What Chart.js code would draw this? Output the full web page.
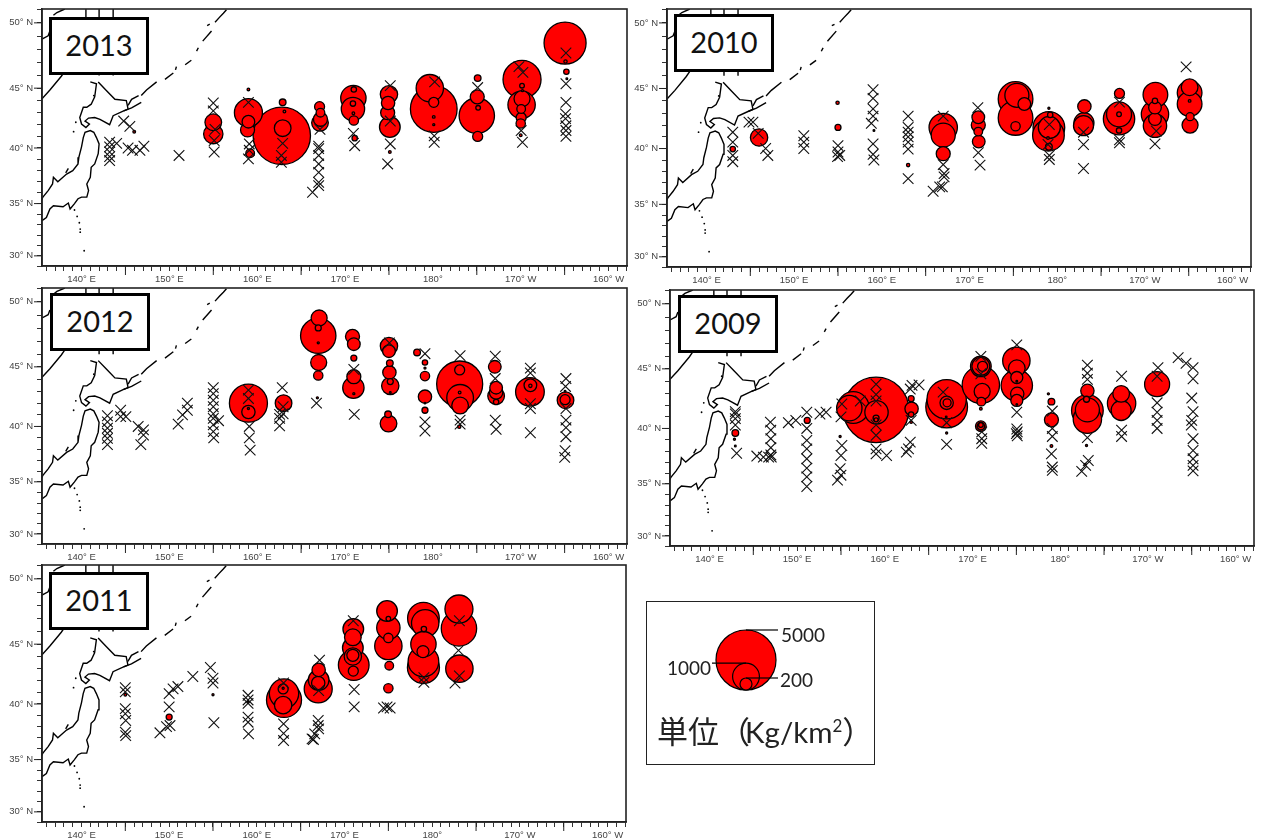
<!DOCTYPE html>
<html>
<head>
<meta charset="utf-8">
<script src="https://cdn.jsdelivr.net/npm/chart.js@4"></script>
<style>
  html, body { margin: 0; padding: 0; background: #fff; overflow: hidden; width: 1262px; height: 839px; }
  canvas { position: absolute; }
  .year { position: absolute; box-sizing: border-box; background: #fff; border: 3px solid #000; padding-bottom: 3px; font: 29px Lato, sans-serif; color: #111; display: flex; align-items: center; justify-content: center; z-index: 5; }
  #legendBox { position: absolute; left: 646px; top: 601px; width: 229px; height: 164px; box-sizing: border-box; border: 1px solid #222; }
  .ltext { position: absolute; transform: translateY(-50%); font: 19px Lato, sans-serif; color: #222; white-space: nowrap; z-index: 5; }
  #unit { font: 29.5px Lato, "Noto Sans CJK JP", sans-serif; }
  #unit b { font: 31px "Noto Sans CJK JP", sans-serif; }
  #unit span { margin-left: -5px; }
  #unit sup { font-size: 17px; line-height: 0; }
</style>
</head>
<body>
<div id="legendBox"></div>
<div class="ltext" style="left:781px;top:634px">5000</div>
<div class="ltext" style="left:667px;top:667px">1000</div>
<div class="ltext" style="left:780px;top:679px">200</div>
<div class="ltext" id="unit" style="left:657px;top:729px"><b>単位（</b><span>Kg/km<sup>2</sup></span><b>）</b></div>

<script>
// tick labels (lon past 180 runs on to the west)
const lonTickVals = [140, 150, 160, 170, 180, 190, 200];
const lonTickText = ["140° E", "150° E", "160° E", "170° E", "180°", "170° W", "160° W"];
const latTickVals = [30, 35, 40, 45, 50];

// coast, [lon, lat]
const coastHonshu = [[135.5,33.4],[136,33.7],[136.4,34.5],[136.8,34.8],[137.9,34.7],[138.5,35.05],[138.7,34.5],[139.2,35],[139.6,35.45],[140,35.6],[140.6,35.6],[140.8,36.2],[140.6,36.8],[141,37.4],[141.1,38.3],[141.5,38.6],[141.9,39.5],[142,40.35],[141.7,40.9],[141.4,41.35],[141,41.5],[140.4,41.35],[140.2,40.9],[140,40.1],[139.7,39.2],[139.6,38.6],[139,38],[138.3,37.7],[137.3,37],[136.8,37.4],[136.7,36.8],[136.2,36.2],[135.6,35.6],[135.5,35.45]];
const coastHokkaido = [[141,45.5],[141.7,45.35],[141.5,44.3],[141.1,43.7],[140.6,43.45],[140.2,43.45],[139.8,42.6],[140,42.05],[140.5,41.75],[140.9,42.05],[140.4,42.3],[140.8,42.55],[141.5,42.6],[142.1,42.45],[143.2,42],[143.6,42.75],[144.8,43.15],[145.3,43.3],[145.1,44],[143.8,44.1],[142.85,44.8],[141.9,45.5]];
const coastOther = [
  [[145.3,43.6],[145.7,44.1],[146.5,44.4]],
  [[146.8,44.4],[147.4,44.85],[148.55,45.5]],
  [[144.8,43.15],[145.7,43.4],[146.8,43.85]],
  [[149.5,45.7],[150.45,46.2]],
  [[150.7,46.45],[150.8,46.7]],
  [[151.8,46.85],[152.5,47.2]],
  [[153.1,47.9],[153.3,48.15]],
  [[153.8,48.65],[154.8,49.4]],
  [[154.3,49.8],[154.6,49.9]],
  [[155.2,50.05],[155.7,50.4],[156.15,50.7],[156.5,50.95]],
  [[135.5,44.15],[136.4,44.85],[137.7,45.95],[138.1,46.35]],
  [[135.5,48.8],[136.2,49.05],[136.4,49.4]],
  [[136.8,50.55],[137.2,50.75],[138.1,51]],
  [[140.5,51],[140.5,46.5]],
  [[142,51],[142,46]],
  [[143.6,51],[143.6,46]],
  [[138.2,37.8],[138.5,38.2]]
];
const islands = [[139.2,34.4],[139.5,33.8],[139.75,33.2],[139.85,32.6],[139.85,32.3],[140.3,30.5],[141.4,44.4],[139.35,42.2],[139.1,41.4]];

// catch stations [lon, lat, kg/km2]
const catch2013 = [[155,41.2,520],[155,42.2,386],[159,43,1090],[159,42.25,223],[158.9,41.55,272],[159.2,39.55,104],[159,44.9,10],[146,41.4,10],[162.8,41.05,4570],[162.9,41.7,386],[162.9,43.85,62],[163.1,43.1,10],[167.15,42.15,386],[167.2,42.45,272],[167.2,43,104],[167.1,43.5,139],[170.95,44.2,892],[170.9,43.3,757],[171,44.9,40],[170.9,43.75,40],[170.95,42.95,10],[171,42.35,121],[171.1,40.85,40],[175,44.5,418],[174.9,43.8,247],[174.85,43,272],[175.1,41.8,594],[175.1,39.65,10],[179.65,45,1039],[180.1,43.3,3028],[180.1,43.85,139],[180.1,42.65,10],[180.1,42,6],[185,42.75,1736],[185.05,44.3,272],[185.15,43.4,30],[185.1,45.8,62],[185.1,41,139],[190.15,45.7,2008],[190.1,43.65,1039],[190.15,44.15,356],[190.05,43.3,104],[190.05,42.6,139],[190,42.1,121],[190.15,45.2,30],[190.2,44.8,6],[190,41.1,10],[195.05,48.5,2453],[195.1,47.1,15],[195.2,46.3,40],[195.25,45.75,4]];
const catch2010 = [[143,39.95,40],[146,40.95,418],[154.95,43.85,15],[155,41.8,50],[159.1,41.55,4],[163,38.55,15],[167,41.8,1116],[167,41.15,800],[167,39.55,272],[171,42.65,223],[171,42,272],[171,41.45,104],[171.05,40.6,223],[175.25,44.15,1671],[175.25,42.6,1671],[175.4,44.45,800],[176.25,43.75,223],[175.25,41.9,121],[179.05,41.8,1394],[179,41.15,1394],[179.1,41.8,673],[179.2,42.85,40],[178.95,40.9,10],[179.05,43.4,6],[179.05,40.15,62],[183.05,42.2,556],[183,41.95,556],[183.1,43.55,247],[187.05,42.5,1365],[187.05,42.9,869],[187.05,42.9,30],[187.05,41.55,40],[187.1,44.6,139],[191.15,41.95,757],[191.15,42.9,1039],[191.2,44.5,846],[191.15,42.5,223],[191.15,43.45,223],[191.15,44,40],[195.1,44.65,846],[195.1,45.1,386],[195.1,43.75,846],[195.1,44,10],[195.15,42,356],[195.15,42.7,89]];
const catch2012 = [[159,42,2008],[159,41.25,247],[159,41.55,6],[163,42,386],[166.95,47.45,1736],[167.05,48.8,356],[166.95,48.05,50],[166.95,46.9,6],[167,45.35,356],[166.95,44.3,121],[166.85,42.45,6],[170.85,47.4,272],[171,46.8,223],[171,45.7,50],[171,44.2,272],[170.95,43.3,633],[171,42.8,6],[175,46.65,418],[175,46.25,223],[175.1,45.3,62],[175.05,44.55,247],[175.15,43.45,418],[175.15,43.8,50],[175.15,42.9,4],[174.95,40.25,386],[174.9,41.05,62],[178.2,46.15,62],[179.1,45.35,40],[179.1,44.9,6],[179.1,44.25,121],[179.1,42.55,247],[179.1,41.4,50],[179.1,42,3],[183.05,43.6,2942],[183.1,42.45,989],[183.1,41.8,386],[183.05,44.75,139],[183.05,42.9,10],[183,39.97,15],[187.05,45,223],[187.2,42.6,386],[187.2,43.3,223],[187.2,42.9,247],[187.2,42.1,40],[191.05,42.95,1143],[191.1,43.5,223],[191.1,43.45,15],[195.1,42.25,386],[195.05,42.3,139],[195.05,43,4]];
const catch2009 = [[142.95,39.6,62],[142.85,39.05,6],[142.95,38.45,4],[151.15,40.7,50],[154.9,39.3,6],[159,41.6,5936],[156.4,41.8,1394],[155.95,41.75,892],[159.05,41.4,757],[159,40.9,50],[159,40.75,22],[163,42.55,50],[163.05,41.7,247],[163,41.2,40],[163,40.55,10],[167.05,42.5,2151],[167.05,41.85,2414],[167.05,42.2,247],[167.1,42.2,89],[167,41,4],[167.05,39.6,6],[170.95,43.7,1938],[170.95,45.2,594],[170.95,45.2,448],[171.15,45.2,139],[171.1,43.15,356],[171,42.3,104],[170.95,41.7,10],[170.95,40.2,158],[170.95,40.2,75],[170.95,40.3,30],[175,45.65,1039],[175.05,45.05,386],[175.05,43.65,1365],[175.05,44.3,200],[175.1,42.95,247],[175.05,42.4,200],[175.05,44,4],[175.05,42.05,4],[178.65,42.95,6],[179,42.3,62],[179,40.75,272],[179,38.45,10],[183.1,43.2,247],[183,42.5,50],[183.1,41.55,1394],[183.1,40.8,1116],[183.1,41.6,800],[183,38.5,6],[182.85,36.8,6],[187,42.15,1116],[186.95,42.95,386],[186.95,41.55,556],[191.05,43.75,869]];
const catch2011 = [[145,40.8,10],[150,38.85,50],[155,40.8,6],[159,40.15,6],[163.1,40.35,1703],[163.1,40.9,1196],[163,41.3,139],[163,41.35,6],[163,39.9,418],[167,41.3,1090],[167.05,42.05,594],[167,41.8,247],[167.05,42.9,247],[171,46.2,594],[170.95,45.55,386],[170.95,44.7,594],[171.05,43.3,1308],[170.95,44,418],[170.95,44.1,200],[171,42.8,139],[174.85,47.6,594],[175,46.3,757],[175,44.85,1039],[175,47,30],[175,45.5,121],[175.1,43.25,104],[175,41.35,121],[179,47.05,1394],[179.2,46.65,1039],[179.05,46.2,40],[179,45,892],[178.95,44.4,200],[179,43.6,1308],[179,43.1,1424],[183.05,47.75,1090],[183.05,46.25,1736],[183.1,43,1039]];

// stations with no catch [lon, lat]
const none2013 = [[144.8,42.3],[145.5,41.85],[143.2,40.5],[143.2,40.1],[143.2,39.65],[143.2,39.25],[143.2,38.9],[144,40.4],[145.3,40],[145.8,39.8],[146.65,39.8],[147.1,40.15],[151.1,39.35],[155,43.8],[155,43.15],[155.2,41.6],[155.1,40.65],[155.1,39.65],[159,43.85],[159.1,40.35],[159.1,39.8],[159,39.05],[162.9,40.4],[162.75,39.35],[162.75,38.75],[167.15,41.6],[167,40.15],[167,39.95],[167,39.35],[167,38.6],[167,37.85],[167,36.95],[167,36.65],[166.3,36.05],[170.95,41.25],[171.1,40.2],[175.15,45.2],[175.15,42.3],[175.15,40.35],[174.85,38.6],[180.2,45.5],[180.15,41.05],[180.15,40.5],[185.1,45.05],[189.8,46.7],[190.25,46.25],[190.05,41.5],[190.2,40.5],[195.15,47.75],[195.15,45.35],[195.15,43.85],[195.1,42.9],[195.1,42.5],[195.15,41.9],[195.15,41.5],[195.15,41]];
const none2010 = [[143,41.4],[143,40.55],[143,39.4],[143,38.85],[144.85,42.25],[145.3,42.25],[145.9,41.3],[146.75,40],[147,39.4],[151.1,41.1],[151.1,40.55],[151.1,40],[155,40.25],[155,39.7],[155.2,39.4],[154.95,39.3],[159,44.9],[159,44.2],[159,43.35],[159,42.75],[158.8,42.15],[159,40.4],[159,39.5],[159.1,39],[163,42.75],[163,41.8],[163,41.4],[163,41],[163,40.55],[163,39.95],[163,37.35],[165.85,36.2],[166.6,36.6],[167,38.6],[167.1,37.8],[167.1,37.5],[166.9,36.6],[167,42.75],[170.95,43.45],[171,39.65],[171.2,38.55],[179.1,42.05],[178.95,40.35],[179.1,39.4],[179.1,39.05],[183,41.4],[183,40.35],[183,38.25],[187.1,43.9],[187.1,40.75],[187.1,40.5],[191.3,41.5],[191.15,40.4],[194.7,46.7]];
const none2012 = [[142.95,40.93],[142.95,40.4],[142.95,39.85],[142.95,39.4],[142.95,38.95],[142.95,38.4],[144.45,41.4],[144.45,40.85],[145.05,40.85],[146.45,40],[147.05,39.7],[147.05,39.25],[146.75,38.4],[151,40.2],[151.5,41],[152.05,42],[152.05,41.4],[155,43.3],[155,42.8],[155,42.25],[155,41.7],[155,41.1],[155,40.7],[155,40.15],[155,39.55],[155.05,39],[155.6,40.5],[159,43.1],[159,42.4],[159.1,40],[159.1,39],[159.2,37.9],[162.85,43.3],[162.95,41.7],[162.95,41.1],[162.55,40.7],[162.55,40.05],[162.55,41.05],[166.75,42],[171.05,41.05],[171,44.8],[175.05,46.9],[179.1,46.05],[179.1,40.4],[179.1,39.6],[183.1,45.9],[183.1,40.55],[183.1,40.2],[187.1,45.85],[187.1,40.55],[187.2,39.75],[187.1,44.05],[191.1,44.9],[191.1,44.5],[191.1,41.95],[191.1,41.55],[191.1,39.45],[195.15,44.05],[195.1,43.4],[195.15,41.55],[195.15,40.55],[195.15,39.9],[195.15,39.1],[195.05,37.85],[195,37.25]];
const none2009 = [[142.95,41.45],[142.95,41.25],[142.95,40.85],[142.95,40.3],[143.1,37.8],[145.4,37.55],[146.15,37.45],[146.75,37.45],[147.05,37.45],[147,37.65],[146.95,40.55],[147,39.85],[147,39.1],[147,38.3],[149,40.5],[149.85,40.7],[151.1,41.4],[151.1,40],[151.1,38.95],[151.1,38.2],[151.1,37.3],[151.1,36.45],[151.1,35.65],[151.1,34.75],[152.6,41.25],[153.3,41.4],[155,41],[155.1,38.5],[155,37.6],[154.9,36.4],[154.6,35.35],[155,35.8],[159,43.75],[159,42.9],[159,42.35],[157.2,42.35],[155.1,42.1],[159,40.3],[159,39.4],[159,38.2],[159,37.75],[160.2,37.6],[163.1,43.65],[163.9,43.7],[162.9,43.35],[163,40.7],[162.9,38.8],[162.7,38.2],[162.45,37.9],[166.65,43.1],[167.05,40.5],[167.05,38.6],[170.95,46],[170.95,44.6],[171.05,39.7],[171.05,39.1],[171.05,38.7],[175.05,46.9],[175.05,41.4],[175.05,39.95],[175.1,39.7],[175.1,39.35],[175,39.55],[179.1,41.5],[179.1,40],[179.1,39.3],[179,37.75],[179.1,36.55],[179.1,36.25],[183.1,45.3],[183.1,44.65],[183.1,44.15],[183.1,39.2],[183.2,37.15],[182.45,36.15],[182.9,36.7],[187,44.4],[187,39.85],[187,39.3],[191.15,45.1],[191.05,44.4],[191.05,42.2],[191.05,41.4],[191.05,40.7],[191.05,40],[193.45,45.9],[194.35,45.45],[195.15,45.1],[195.15,44.2],[195,42.6],[195.15,41.45],[195,40.7],[194.95,40.3],[195.15,39.1],[195.15,38.05],[195.15,37.3],[195.15,36.7],[195.15,36.2]];
const none2011 = [[145,41.4],[145,41.05],[145,39.6],[145,39.15],[145.05,38.55],[145,37.5],[145.05,37.2],[150,40.9],[150,39.75],[148.95,37.45],[149.7,38],[150.1,38.1],[150.45,41.3],[151,41.5],[152.7,42.35],[154.7,43.1],[155,42.2],[155,41.8],[155.1,38.35],[159,40.75],[159,40.35],[159,40.05],[159,38.85],[159,38.4],[159.05,37.35],[163.05,41.8],[163.05,38.25],[163.05,37.4],[163.05,36.75],[166.45,36.85],[167,38.55],[167,38.1],[167.05,37.8],[166.6,37.35],[166.3,36.9],[167.15,43.7],[167.05,41.15],[171,46.85],[171.1,41.25],[171.1,39.75],[174.45,39.65],[174.85,39.75],[175.2,39.65],[179.05,42.25],[179.05,41.85],[183.1,46.85],[183,44.5],[183.1,42.4],[182.6,41.8]];

// size key
const legendValues = [5000, 1000, 200];

const LON_MIN = 135.5, LON_MAX = 202.1, LAT_MIN = 29, LAT_MAX = 51;

// map is mercator, y axis works in mercator degrees
function merc(lat) {
  let rad = lat * Math.PI / 180;
  return Math.log(Math.tan(Math.PI / 4 + rad / 2)) * 180 / Math.PI;
}
function radiusOf(kg) {
  return 0.4243 * Math.sqrt(kg);
}
function toXY(p) {
  return { x: p[0], y: merc(p[1]) };
}

// frame and the longer 5 degree ticks
const framePlugin = {
  id: "frame",
  afterDraw(chart) {
    let c = chart.ctx, a = chart.chartArea, xs = chart.scales.x, ys = chart.scales.y;
    c.save();
    c.strokeStyle = "#222";
    c.lineWidth = 1.6;
    c.strokeRect(a.left, a.top, a.right - a.left, a.bottom - a.top);
    c.lineWidth = 1;
    c.beginPath();
    for (let lon = 145; lon <= 195; lon += 10) {
      let px = xs.getPixelForValue(lon);
      c.moveTo(px, a.bottom);
      c.lineTo(px, a.bottom + 9);
    }
    latTickVals.forEach(lat => {
      let py = ys.getPixelForValue(merc(lat));
      c.moveTo(a.left, py);
      c.lineTo(a.left - 8, py);
    });
    c.stroke();
    c.restore();
  }
};

function makePanel(p) {
  let canvas = document.createElement("canvas");
  canvas.width = p.r - p.l + 48;
  canvas.height = p.b - p.t + 30;
  canvas.style.left = (p.l - 42) + "px";
  canvas.style.top = (p.t - 6) + "px";
  document.body.appendChild(canvas);

  let box = document.createElement("div");
  box.className = "year";
  box.innerText = p.year;
  box.style.left = p.bx + "px";
  box.style.top = p.by + "px";
  box.style.width = "100px";
  box.style.height = "58px";
  document.body.appendChild(box);

  let circles = p.catchData.slice().sort((a, b) => b[2] - a[2]);
  let datasets = [
    {
      type: "scatter",
      data: p.noneData.map(toXY),
      pointStyle: "crossRot",
      pointRadius: 7.5,
      borderColor: "#111",
      borderWidth: 1.1,
      order: 1
    },
    {
      type: "bubble",
      data: circles.map(c => ({ x: c[0], y: merc(c[1]), r: radiusOf(c[2]) })),
      backgroundColor: "#ff0000",
      borderColor: "#000",
      borderWidth: 1.3,
      order: 2
    },
    {
      type: "scatter",
      data: islands.map(toXY),
      pointRadius: 0.9,
      backgroundColor: "#000",
      borderWidth: 0,
      order: 3
    }
  ];
  [coastHonshu, coastHokkaido].concat(coastOther).forEach(piece => {
    datasets.push({
      type: "scatter",
      showLine: true,
      data: piece.map(toXY),
      pointRadius: 0,
      borderColor: "#000",
      borderWidth: 1.4,
      order: 4
    });
  });

  new Chart(canvas, {
    type: "scatter",
    data: { datasets },
    plugins: [framePlugin],
    options: {
      responsive: false,
      animation: false,
      layout: { autoPadding: false, padding: { top: 6, right: 6, left: 0, bottom: 0 } },
      plugins: { legend: { display: false }, tooltip: { enabled: false } },
      scales: {
        x: {
          type: "linear",
          min: LON_MIN,
          max: LON_MAX,
          afterFit: s => {
            s.height = 24;
            s.paddingLeft = 0;
            s.paddingRight = 0;
          },
          afterBuildTicks: s => {
            let t = [];
            for (let lon = 136; lon <= 202; lon++) t.push({ value: lon });
            s.ticks = t;
          },
          grid: { drawOnChartArea: false, tickLength: 5, tickColor: "#333" },
          border: { color: "#222", width: 1.6 },
          ticks: {
            autoSkip: false,
            maxRotation: 0,
            padding: 3,
            color: "#444",
            font: { family: "Liberation Sans", size: 9.5 },
            callback: v => {
              let i = lonTickVals.indexOf(v);
              return i < 0 ? "" : lonTickText[i];
            }
          }
        },
        y: {
          type: "linear",
          min: merc(LAT_MIN),
          max: merc(LAT_MAX),
          afterFit: s => {
            s.width = 42;
            s.paddingTop = 0;
            s.paddingBottom = 0;
          },
          afterBuildTicks: s => {
            let t = [];
            for (let lat = 29; lat <= 51; lat++) t.push({ value: merc(lat), lat });
            s.ticks = t;
          },
          grid: { drawOnChartArea: false, tickLength: 5, tickColor: "#333" },
          border: { color: "#222", width: 1.6 },
          ticks: {
            autoSkip: false,
            padding: 4,
            color: "#444",
            font: { family: "Liberation Sans", size: 9.5 },
            callback: (v, i, all) => latTickVals.includes(all[i].lat) ? all[i].lat + "° N" : ""
          }
        }
      }
    }
  });
}

const panels = [
  { year: "2013", catchData: catch2013, noneData: none2013, l: 42, r: 627, t: 9, b: 266, bx: 49, by: 17 },
  { year: "2010", catchData: catch2010, noneData: none2010, l: 667, r: 1251, t: 9, b: 267, bx: 674, by: 14 },
  { year: "2012", catchData: catch2012, noneData: none2012, l: 42, r: 627, t: 288, b: 544, bx: 50, by: 293 },
  { year: "2009", catchData: catch2009, noneData: none2009, l: 670, r: 1254, t: 290, b: 546, bx: 678, by: 295 },
  { year: "2011", catchData: catch2011, noneData: none2011, l: 42, r: 626, t: 565, b: 822, bx: 49, by: 572 }
];
panels.forEach(makePanel);

// size key, y counted up from the key's lower edge
const KEY_X = 99, KEY_FLOOR = 75;
const keyLeaders = [[99, 131], [65, 99], [99, 131]];
let keyCanvas = document.createElement("canvas");
keyCanvas.width = 228;
keyCanvas.height = 163;
keyCanvas.style.left = "647px";
keyCanvas.style.top = "602px";
document.body.appendChild(keyCanvas);

let keyData = legendValues.map(v => ({ x: KEY_X, y: KEY_FLOOR + radiusOf(v), r: radiusOf(v) }));
let keyLines = legendValues.map((v, i) => ({
  type: "scatter",
  showLine: true,
  data: keyLeaders[i].map(x => ({ x, y: KEY_FLOOR + 2 * radiusOf(v) })),
  pointRadius: 0,
  borderColor: "#000",
  borderWidth: 1.2,
  order: 1
}));
new Chart(keyCanvas, {
  type: "scatter",
  data: {
    datasets: [{
      type: "bubble",
      data: keyData,
      backgroundColor: "#ff0000",
      borderColor: "#000",
      borderWidth: 1.2,
      order: 2
    }].concat(keyLines)
  },
  options: {
    responsive: false,
    animation: false,
    layout: { autoPadding: false },
    plugins: { legend: { display: false }, tooltip: { enabled: false } },
    scales: {
      x: { type: "linear", display: false, min: 0, max: 228 },
      y: { type: "linear", display: false, min: 0, max: 163 }
    }
  }
});
</script>
</body>
</html>
